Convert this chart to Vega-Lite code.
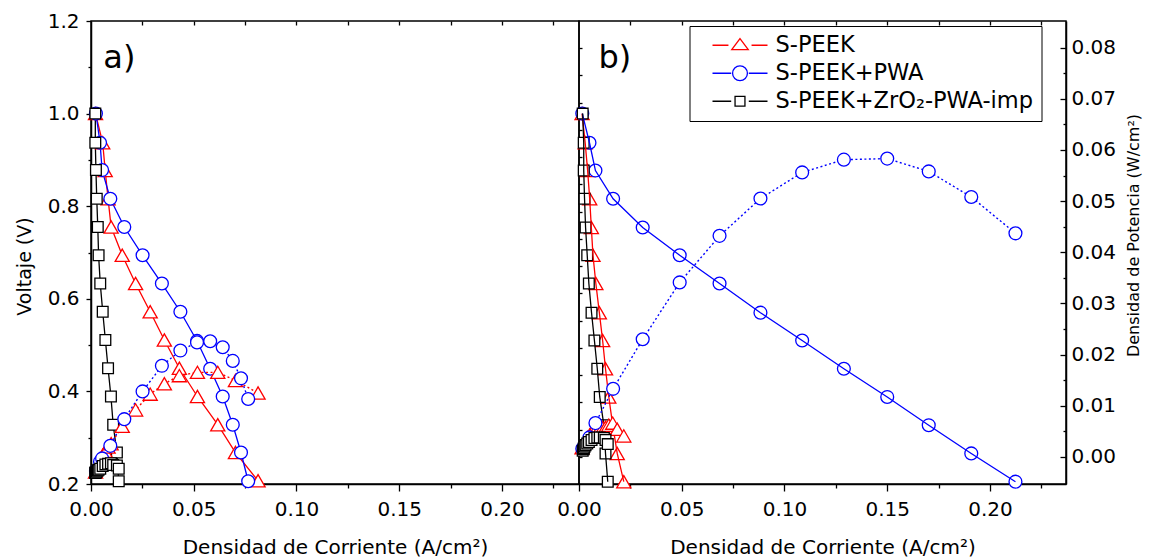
{
  "$schema": "https://vega.github.io/schema/vega-lite/v6.json",
  "padding": {"left": 14, "top": 10, "right": 5, "bottom": 5},
  "background": "white",
  "bounds": "flush",
  "spacing": 0,
  "config": {
    "view": {"stroke": "black", "strokeWidth": 1.5},
    "font": "DejaVu Sans",
    "axis": {"labelFont": "DejaVu Sans", "titleFont": "DejaVu Sans", "labelColor": "black", "titleColor": "black", "domainColor": "black", "tickColor": "black", "domainWidth": 1.5, "tickWidth": 1.3, "grid": false, "labelFlush": false, "labelOverlap": false, "labelBound": false, "titleFontWeight": "normal"}
  },
  "datasets": {
    "pts": [
      {"panel":"a","series":"S-PEEK","j":0.0022,"V":1.0,"P":0.0022},
      {"panel":"a","series":"S-PEEK","j":0.0057,"V":0.937,"P":0.0053},
      {"panel":"a","series":"S-PEEK","j":0.0069,"V":0.877,"P":0.006},
      {"panel":"a","series":"S-PEEK","j":0.0083,"V":0.816,"P":0.0068},
      {"panel":"a","series":"S-PEEK","j":0.0098,"V":0.755,"P":0.0074},
      {"panel":"a","series":"S-PEEK","j":0.0152,"V":0.694,"P":0.0106},
      {"panel":"a","series":"S-PEEK","j":0.0217,"V":0.633,"P":0.0136},
      {"panel":"a","series":"S-PEEK","j":0.0288,"V":0.572,"P":0.0165},
      {"panel":"a","series":"S-PEEK","j":0.0357,"V":0.511,"P":0.0184},
      {"panel":"a","series":"S-PEEK","j":0.043,"V":0.45,"P":0.0199},
      {"panel":"a","series":"S-PEEK","j":0.0518,"V":0.389,"P":0.0205},
      {"panel":"a","series":"S-PEEK","j":0.0617,"V":0.328,"P":0.0205},
      {"panel":"a","series":"S-PEEK","j":0.0703,"V":0.268,"P":0.019},
      {"panel":"a","series":"S-PEEK","j":0.0813,"V":0.207,"P":0.0167},
      {"panel":"a","series":"S-PEEK+PWA","j":0.0024,"V":1.0,"P":0.0024},
      {"panel":"a","series":"S-PEEK+PWA","j":0.0044,"V":0.937,"P":0.0041},
      {"panel":"a","series":"S-PEEK+PWA","j":0.0054,"V":0.878,"P":0.0047},
      {"panel":"a","series":"S-PEEK+PWA","j":0.0094,"V":0.816,"P":0.007},
      {"panel":"a","series":"S-PEEK+PWA","j":0.0162,"V":0.755,"P":0.0119},
      {"panel":"a","series":"S-PEEK+PWA","j":0.0251,"V":0.694,"P":0.017},
      {"panel":"a","series":"S-PEEK+PWA","j":0.0345,"V":0.633,"P":0.0217},
      {"panel":"a","series":"S-PEEK+PWA","j":0.0435,"V":0.572,"P":0.0245},
      {"panel":"a","series":"S-PEEK+PWA","j":0.0516,"V":0.509,"P":0.026},
      {"panel":"a","series":"S-PEEK+PWA","j":0.058,"V":0.449,"P":0.0262},
      {"panel":"a","series":"S-PEEK+PWA","j":0.0641,"V":0.389,"P":0.0251},
      {"panel":"a","series":"S-PEEK+PWA","j":0.069,"V":0.328,"P":0.0226},
      {"panel":"a","series":"S-PEEK+PWA","j":0.073,"V":0.268,"P":0.0194},
      {"panel":"a","series":"S-PEEK+PWA","j":0.0765,"V":0.206,"P":0.0156},
      {"panel":"a","series":"S-PEEK+ZrO₂-PWA-imp","j":0.0021,"V":1.0,"P":0.0021},
      {"panel":"a","series":"S-PEEK+ZrO₂-PWA-imp","j":0.0021,"V":0.937,"P":0.002},
      {"panel":"a","series":"S-PEEK+ZrO₂-PWA-imp","j":0.0024,"V":0.878,"P":0.0021},
      {"panel":"a","series":"S-PEEK+ZrO₂-PWA-imp","j":0.0028,"V":0.816,"P":0.0023},
      {"panel":"a","series":"S-PEEK+ZrO₂-PWA-imp","j":0.0033,"V":0.755,"P":0.0025},
      {"panel":"a","series":"S-PEEK+ZrO₂-PWA-imp","j":0.0037,"V":0.694,"P":0.0026},
      {"panel":"a","series":"S-PEEK+ZrO₂-PWA-imp","j":0.0045,"V":0.633,"P":0.0028},
      {"panel":"a","series":"S-PEEK+ZrO₂-PWA-imp","j":0.0057,"V":0.572,"P":0.0033},
      {"panel":"a","series":"S-PEEK+ZrO₂-PWA-imp","j":0.007,"V":0.511,"P":0.0036},
      {"panel":"a","series":"S-PEEK+ZrO₂-PWA-imp","j":0.0083,"V":0.45,"P":0.0037},
      {"panel":"a","series":"S-PEEK+ZrO₂-PWA-imp","j":0.0097,"V":0.389,"P":0.0038},
      {"panel":"a","series":"S-PEEK+ZrO₂-PWA-imp","j":0.0108,"V":0.328,"P":0.0035},
      {"panel":"a","series":"S-PEEK+ZrO₂-PWA-imp","j":0.0126,"V":0.268,"P":0.0034},
      {"panel":"a","series":"S-PEEK+ZrO₂-PWA-imp","j":0.0135,"V":0.206,"P":0.0028},
      {"panel":"b","series":"S-PEEK","j":0.0015,"V":1.0,"P":0.0018},
      {"panel":"b","series":"S-PEEK","j":0.003,"V":0.937,"P":0.003},
      {"panel":"b","series":"S-PEEK","j":0.0042,"V":0.877,"P":0.0038},
      {"panel":"b","series":"S-PEEK","j":0.0052,"V":0.816,"P":0.0043},
      {"panel":"b","series":"S-PEEK","j":0.006,"V":0.754,"P":0.0047},
      {"panel":"b","series":"S-PEEK","j":0.0068,"V":0.694,"P":0.005},
      {"panel":"b","series":"S-PEEK","j":0.0082,"V":0.633,"P":0.0053},
      {"panel":"b","series":"S-PEEK","j":0.0099,"V":0.57,"P":0.0055},
      {"panel":"b","series":"S-PEEK","j":0.0115,"V":0.51,"P":0.0057},
      {"panel":"b","series":"S-PEEK","j":0.0129,"V":0.449,"P":0.0058},
      {"panel":"b","series":"S-PEEK","j":0.0145,"V":0.388,"P":0.0062},
      {"panel":"b","series":"S-PEEK","j":0.0164,"V":0.327,"P":0.0066},
      {"panel":"b","series":"S-PEEK","j":0.0186,"V":0.266,"P":0.0054},
      {"panel":"b","series":"S-PEEK","j":0.0218,"V":0.205,"P":0.0041},
      {"panel":"b","series":"S-PEEK+PWA","j":0.0016,"V":1.0,"P":0.0016},
      {"panel":"b","series":"S-PEEK+PWA","j":0.0051,"V":0.937,"P":0.0038},
      {"panel":"b","series":"S-PEEK+PWA","j":0.008,"V":0.877,"P":0.0066},
      {"panel":"b","series":"S-PEEK+PWA","j":0.0166,"V":0.816,"P":0.0133},
      {"panel":"b","series":"S-PEEK+PWA","j":0.031,"V":0.754,"P":0.023},
      {"panel":"b","series":"S-PEEK+PWA","j":0.049,"V":0.694,"P":0.0341},
      {"panel":"b","series":"S-PEEK+PWA","j":0.0684,"V":0.633,"P":0.0432},
      {"panel":"b","series":"S-PEEK+PWA","j":0.0883,"V":0.57,"P":0.0505},
      {"panel":"b","series":"S-PEEK+PWA","j":0.1086,"V":0.51,"P":0.0556},
      {"panel":"b","series":"S-PEEK+PWA","j":0.1289,"V":0.449,"P":0.0581},
      {"panel":"b","series":"S-PEEK+PWA","j":0.15,"V":0.388,"P":0.0583},
      {"panel":"b","series":"S-PEEK+PWA","j":0.1702,"V":0.327,"P":0.0558},
      {"panel":"b","series":"S-PEEK+PWA","j":0.1909,"V":0.266,"P":0.0508},
      {"panel":"b","series":"S-PEEK+PWA","j":0.2124,"V":0.205,"P":0.0437},
      {"panel":"b","series":"S-PEEK+ZrO₂-PWA-imp","j":0.0018,"V":1.0,"P":0.0012},
      {"panel":"b","series":"S-PEEK+ZrO₂-PWA-imp","j":0.0023,"V":0.937,"P":0.0015},
      {"panel":"b","series":"S-PEEK+ZrO₂-PWA-imp","j":0.0023,"V":0.877,"P":0.0017},
      {"panel":"b","series":"S-PEEK+ZrO₂-PWA-imp","j":0.0027,"V":0.816,"P":0.002},
      {"panel":"b","series":"S-PEEK+ZrO₂-PWA-imp","j":0.0032,"V":0.754,"P":0.0023},
      {"panel":"b","series":"S-PEEK+ZrO₂-PWA-imp","j":0.004,"V":0.694,"P":0.0026},
      {"panel":"b","series":"S-PEEK+ZrO₂-PWA-imp","j":0.0048,"V":0.633,"P":0.0029},
      {"panel":"b","series":"S-PEEK+ZrO₂-PWA-imp","j":0.0061,"V":0.57,"P":0.0033},
      {"panel":"b","series":"S-PEEK+ZrO₂-PWA-imp","j":0.0075,"V":0.51,"P":0.0037},
      {"panel":"b","series":"S-PEEK+ZrO₂-PWA-imp","j":0.0089,"V":0.449,"P":0.0038},
      {"panel":"b","series":"S-PEEK+ZrO₂-PWA-imp","j":0.0101,"V":0.388,"P":0.0038},
      {"panel":"b","series":"S-PEEK+ZrO₂-PWA-imp","j":0.0121,"V":0.327,"P":0.0037},
      {"panel":"b","series":"S-PEEK+ZrO₂-PWA-imp","j":0.0129,"V":0.266,"P":0.0033},
      {"panel":"b","series":"S-PEEK+ZrO₂-PWA-imp","j":0.014,"V":0.205,"P":0.0025}
    ]
  },
  "resolve": {"legend": {"color": "independent", "shape": "independent", "size": "independent"}},
  "hconcat": [
    {
      "width": 488,
      "height": 463,
      "data": {"name": "pts"},
      "transform": [{"filter": "datum.panel === 'a'"}],
      "resolve": {"scale": {"y": "independent"}, "axis": {"x": "independent", "y": "independent"}},
      "layer": [
        {
          "encoding": {
            "x": {"field": "j", "type": "quantitative", "scale": {"domain": [0, 0.2375], "nice": false, "zero": false},
              "axis": {"orient": "bottom", "values": [0, 0.025, 0.05, 0.075, 0.1, 0.125, 0.15, 0.175, 0.2, 0.225],
                "labelExpr": "round(datum.value*40) % 2 === 0 ? format(datum.value, '.2f') : ''",
                "tickSize": {"condition": {"test": "round(datum.value*40) % 2 === 0", "value": 7}, "value": 4},
                "labelPadding": 8, "labelFontSize": 20, "title": "Densidad de Corriente (A/cm²)", "titleFontSize": 20, "titlePadding": 18}},
            "y": {"field": "V", "type": "quantitative", "scale": {"domain": [0.2, 1.2], "nice": false, "zero": false},
              "axis": {"orient": "left", "values": [0.2, 0.3, 0.4, 0.5, 0.6, 0.7, 0.8, 0.9, 1.0, 1.1, 1.2],
                "labelExpr": "round(datum.value*10) % 2 === 0 ? format(datum.value, '.1f') : ''",
                "tickSize": {"condition": {"test": "round(datum.value*10) % 2 === 0", "value": 5}, "value": 3},
                "labelPadding": 7, "labelFontSize": 20, "title": "Voltaje (V)", "titleFontSize": 19, "titlePadding": 13, "titleY": 245}}
          },
          "layer": [
            {"mark": {"type": "line", "strokeWidth": 1.3},
              "encoding": {"color": {"field": "series", "type": "nominal", "scale": {"domain": ["S-PEEK", "S-PEEK+PWA", "S-PEEK+ZrO₂-PWA-imp"], "range": ["#ff0000", "#0000ff", "#000000"]}, "legend": null}}},
            {"mark": {"type": "point", "filled": false, "fill": "white", "opacity": 1, "strokeWidth": 1.3},
              "encoding": {
                "color": {"field": "series", "type": "nominal", "scale": {"domain": ["S-PEEK", "S-PEEK+PWA", "S-PEEK+ZrO₂-PWA-imp"], "range": ["#ff0000", "#0000ff", "#000000"]}, "legend": null},
                "shape": {"field": "series", "type": "nominal", "scale": {"domain": ["S-PEEK+PWA", "S-PEEK", "S-PEEK+ZrO₂-PWA-imp"], "range": ["circle", "triangle-up", "square"]}, "legend": null},
                "size": {"field": "series", "type": "nominal", "scale": {"type": "ordinal", "domain": ["S-PEEK+ZrO₂-PWA-imp", "S-PEEK", "S-PEEK+PWA"], "range": [115, 200, 165]}, "legend": null}}},
            {"data": {"values": [{"panel": "a", "label": "a)", "j": 0.006, "V": 1.12}]},
              "mark": {"type": "text", "align": "left", "baseline": "middle", "fontSize": 32, "font": "DejaVu Sans", "color": "black"},
              "encoding": {"text": {"field": "label"}}}
          ]
        },
        {
          "encoding": {
            "x": {"field": "j", "type": "quantitative", "scale": {"domain": [0, 0.2375], "nice": false, "zero": false},
              "axis": {"orient": "top", "values": [0.025, 0.05, 0.075, 0.1, 0.125, 0.15, 0.175, 0.2, 0.225], "labels": false, "title": null, "tickSize": -4, "domain": false}},
            "y": {"field": "P", "type": "quantitative", "scale": {"domain": [0, 0.085], "nice": false, "zero": false},
              "axis": {"orient": "right", "values": [0.005, 0.01, 0.015, 0.02, 0.025, 0.03, 0.035, 0.04, 0.045, 0.05, 0.055, 0.06, 0.065, 0.07, 0.075, 0.08], "labels": false, "title": null, "tickSize": 3, "domain": false}}
          },
          "layer": [
            {"mark": {"type": "line", "strokeWidth": 1.4, "strokeDash": [2, 2.5]},
              "encoding": {"color": {"field": "series", "type": "nominal", "scale": {"domain": ["S-PEEK", "S-PEEK+PWA", "S-PEEK+ZrO₂-PWA-imp"], "range": ["#ff0000", "#0000ff", "#000000"]}, "legend": null}}},
            {"mark": {"type": "point", "filled": false, "fill": "white", "opacity": 1, "strokeWidth": 1.3},
              "encoding": {
                "color": {"field": "series", "type": "nominal", "scale": {"domain": ["S-PEEK", "S-PEEK+PWA", "S-PEEK+ZrO₂-PWA-imp"], "range": ["#ff0000", "#0000ff", "#000000"]}, "legend": null},
                "shape": {"field": "series", "type": "nominal", "scale": {"domain": ["S-PEEK+PWA", "S-PEEK", "S-PEEK+ZrO₂-PWA-imp"], "range": ["circle", "triangle-up", "square"]}, "legend": null},
                "size": {"field": "series", "type": "nominal", "scale": {"type": "ordinal", "domain": ["S-PEEK+ZrO₂-PWA-imp", "S-PEEK", "S-PEEK+PWA"], "range": [115, 200, 165]}, "legend": null}}}
          ]
        }
      ]
    },
    {
      "width": 487,
      "height": 463,
      "data": {"name": "pts"},
      "transform": [{"filter": "datum.panel === 'b'"}],
      "resolve": {"scale": {"y": "independent"}, "axis": {"x": "independent", "y": "independent"}},
      "layer": [
        {
          "encoding": {
            "x": {"field": "j", "type": "quantitative", "scale": {"domain": [0, 0.237], "nice": false, "zero": false},
              "axis": {"orient": "bottom", "values": [0, 0.025, 0.05, 0.075, 0.1, 0.125, 0.15, 0.175, 0.2, 0.225],
                "labelExpr": "round(datum.value*40) % 2 === 0 ? format(datum.value, '.2f') : ''",
                "tickSize": {"condition": {"test": "round(datum.value*40) % 2 === 0", "value": 7}, "value": 4},
                "labelPadding": 8, "labelFontSize": 20, "title": "Densidad de Corriente (A/cm²)", "titleFontSize": 20, "titlePadding": 18}},
            "y": {"field": "V", "type": "quantitative", "scale": {"domain": [0.2, 1.2], "nice": false, "zero": false}, "axis": null}
          },
          "layer": [
            {"mark": {"type": "point", "filled": false, "fill": "white", "opacity": 1, "strokeWidth": 1.3},
              "encoding": {
                "color": {"field": "series", "type": "nominal", "scale": {"domain": ["S-PEEK", "S-PEEK+PWA", "S-PEEK+ZrO₂-PWA-imp"], "range": ["#ff0000", "#0000ff", "#000000"]},
                  "legend": {"orient": "none", "legendX": 110.5, "legendY": 5, "title": null, "padding": 8, "strokeColor": "black", "fillColor": "white", "labelFont": "DejaVu Sans", "labelFontSize": 22.5, "labelColor": "black", "labelLimit": 0, "symbolSize": 400, "symbolOffset": 31.25, "labelOffset": 24.25, "rowPadding": 5, "symbolStrokeWidth": 1.3, "symbolFillColor": "white",
                    "symbolType": {"expr": "datum.value === 'S-PEEK' ? 'M-2.75,0H-1.155M1.155,0H2.75M0,-0.66L0.825,0.44L-0.825,0.44Z' : datum.value === 'S-PEEK+PWA' ? 'M-2.75,0H-0.88M0.88,0H2.75M0.7425,0C0.7425,0.41,0.41,0.7425,0,0.7425C-0.41,0.7425,-0.7425,0.41,-0.7425,0C-0.7425,-0.41,-0.41,-0.7425,0,-0.7425C0.41,-0.7425,0.7425,-0.41,0.7425,0Z' : 'M-2.75,0H-0.88M0.88,0H2.75M-0.495,-0.495H0.495V0.495H-0.495Z'"}}},
                "shape": {"field": "series", "type": "nominal", "scale": {"domain": ["S-PEEK+PWA", "S-PEEK", "S-PEEK+ZrO₂-PWA-imp"], "range": ["circle", "triangle-up", "square"]}, "legend": null},
                "size": {"field": "series", "type": "nominal", "scale": {"type": "ordinal", "domain": ["S-PEEK+ZrO₂-PWA-imp", "S-PEEK", "S-PEEK+PWA"], "range": [115, 200, 165]}, "legend": null}}},
            {"mark": {"type": "line", "strokeWidth": 1.3},
              "encoding": {"color": {"field": "series", "type": "nominal", "scale": {"domain": ["S-PEEK", "S-PEEK+PWA", "S-PEEK+ZrO₂-PWA-imp"], "range": ["#ff0000", "#0000ff", "#000000"]}}}},
            {"data": {"values": [{"panel": "b", "label": "b)", "j": 0.0095, "V": 1.12}]},
              "mark": {"type": "text", "align": "left", "baseline": "middle", "fontSize": 32, "font": "DejaVu Sans", "color": "black"},
              "encoding": {"text": {"field": "label"}}}
          ]
        },
        {
          "encoding": {
            "x": {"field": "j", "type": "quantitative", "scale": {"domain": [0, 0.237], "nice": false, "zero": false},
              "axis": {"orient": "top", "values": [0.025, 0.05, 0.075, 0.1, 0.125, 0.15, 0.175, 0.2, 0.225], "labels": false, "title": null, "tickSize": -4, "domain": false}},
            "y": {"field": "P", "type": "quantitative", "scale": {"domain": [-0.0053, 0.0852], "nice": false, "zero": false},
              "axis": {"orient": "right", "values": [0, 0.005, 0.01, 0.015, 0.02, 0.025, 0.03, 0.035, 0.04, 0.045, 0.05, 0.055, 0.06, 0.065, 0.07, 0.075, 0.08],
                "labelExpr": "round(datum.value*200) % 2 === 0 ? format(datum.value, '.2f') : ''",
                "tickSize": {"condition": {"test": "round(datum.value*200) % 2 === 0", "value": -6}, "value": -3},
                "labelPadding": 11, "labelFontSize": 20, "title": "Densidad de Potencia (W/cm²)", "titleFontSize": 16, "titlePadding": 10, "titleAngle": 270, "titleBaseline": "top", "titleY": 214}}
          },
          "layer": [
            {"mark": {"type": "line", "strokeWidth": 1.4, "strokeDash": [2, 2.5]},
              "encoding": {"color": {"field": "series", "type": "nominal", "scale": {"domain": ["S-PEEK", "S-PEEK+PWA", "S-PEEK+ZrO₂-PWA-imp"], "range": ["#ff0000", "#0000ff", "#000000"]}}}},
            {"mark": {"type": "point", "filled": false, "fill": "white", "opacity": 1, "strokeWidth": 1.3},
              "encoding": {
                "color": {"field": "series", "type": "nominal", "scale": {"domain": ["S-PEEK", "S-PEEK+PWA", "S-PEEK+ZrO₂-PWA-imp"], "range": ["#ff0000", "#0000ff", "#000000"]}},
                "shape": {"field": "series", "type": "nominal", "scale": {"domain": ["S-PEEK+PWA", "S-PEEK", "S-PEEK+ZrO₂-PWA-imp"], "range": ["circle", "triangle-up", "square"]}, "legend": null},
                "size": {"field": "series", "type": "nominal", "scale": {"type": "ordinal", "domain": ["S-PEEK+ZrO₂-PWA-imp", "S-PEEK", "S-PEEK+PWA"], "range": [115, 200, 165]}, "legend": null}}}
          ]
        }
      ]
    }
  ]
}
